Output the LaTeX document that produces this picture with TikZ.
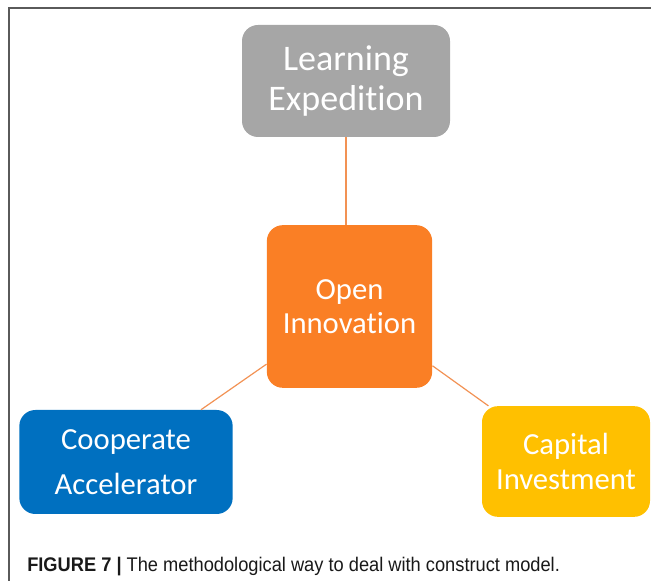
\documentclass[tikz,border=0pt]{standalone}
\usepackage{fontspec}
\usepackage{xcolor}
\usepackage{tikz}
\setmainfont{Carlito}[Ligatures = NoCommon]
\newfontfamily\capfont{Liberation Sans}
\definecolor{expdgray}{HTML}{A6A6A6}
\definecolor{innoorange}{RGB}{250,127,37}
\definecolor{coopblue}{HTML}{0070C0}
\definecolor{capyellow}{HTML}{FFC000}
\definecolor{linkorange}{RGB}{242,146,84}
\definecolor{framegray}{HTML}{5A5A5A}

\begin{document}
\begin{tikzpicture}[
  x = 0.75pt, y = -0.75pt,
  box/.style = {rounded corners = 12pt, align = center, text = white, inner sep = 0pt},
  link/.style = {draw = linkorange, line width = 0.9pt}
  ]
  \useasboundingbox (0,0) rectangle (651,581);
  \draw[framegray, line width = 1.1pt] (9,581) -- (9,8) -- (651,8);
  \node[box, fill = expdgray, minimum width = 156pt, minimum height = 84pt,
        font = \fontsize{27}{30}\selectfont] (expd) at (346,81) {Learning\\Expedition};
  \node[box, fill = innoorange, minimum width = 124pt, minimum height = 122pt,
        font = \fontsize{23}{25.5}\selectfont] (inno) at (349.5,306.5) {Open\\Innovation};
  \node[box, fill = coopblue, minimum width = 160pt, minimum height = 78pt,
        font = \fontsize{23}{34}\selectfont] (coop) at (126,462) {Cooperate\\Accelerator};
  \node[box, fill = capyellow, minimum width = 126pt, minimum height = 83pt,
        font = \fontsize{23}{26}\selectfont] (capinv) at (566,461.5) {Capital\\Investment};
  \draw[link] (expd.south) -- (expd.south |- inno.north);
  \draw[link] (inno) -- (coop);
  \draw[link] (inno) -- (capinv);
  \node[anchor = base west, inner sep = 0pt, text = black!90,
        font = \capfont\fontsize{14.8}{16}\selectfont] (caption) at (27,571)
        {\scalebox{0.925}[1]{\textbf{FIGURE 7 |} The methodological way to deal with construct model.}};
\end{tikzpicture}
\end{document}
